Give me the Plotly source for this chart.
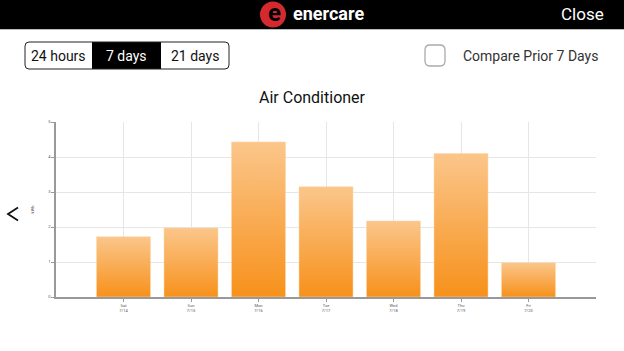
import plotly.graph_objects as go

# ---- data ----
days = ["Sat", "Sun", "Mon", "Tue", "Wed", "Thu", "Fri"]
dates = ["7/14", "7/15", "7/16", "7/17", "7/18", "7/19", "7/20"]
kwh = [1.72, 1.97, 4.43, 3.15, 2.17, 4.10, 0.98]
y_ticks = [0, 1, 2, 3, 4, 5]
title = "Air Conditioner"
segments = ["24 hours", "7 days", "21 days"]
compare_label = "Compare Prior 7 Days"

W, H = 624, 351
L, R, T, B = 56, 28, 122, 54
PW, PH = W - L - R, H - T - B
FONT = "Roboto, Liberation Sans, sans-serif"


def px(x):
    return (x - L) / PW


def py(y):
    return (H - B - y) / PH


def rrect(x0, y0, x1, y1, r):
    pts = [
        f"M {px(x0 + r)} {py(y0)}",
        f"L {px(x1 - r)} {py(y0)}",
        f"Q {px(x1)} {py(y0)} {px(x1)} {py(y0 + r)}",
        f"L {px(x1)} {py(y1 - r)}",
        f"Q {px(x1)} {py(y1)} {px(x1 - r)} {py(y1)}",
        f"L {px(x0 + r)} {py(y1)}",
        f"Q {px(x0)} {py(y1)} {px(x0)} {py(y1 - r)}",
        f"L {px(x0)} {py(y0 + r)}",
        f"Q {px(x0)} {py(y0)} {px(x0 + r)} {py(y0)}",
        "Z",
    ]
    return " ".join(pts)


def text(s, x, y, size, color, xanchor="center", family=FONT):
    return dict(text=s, x=px(x), y=py(y), xref="paper", yref="paper",
                xanchor=xanchor, yanchor="middle", showarrow=False,
                font=dict(size=size, color=color, family=family))


fig = go.Figure()

bar_w = 0.8
for i, v in enumerate(kwh):
    x0, x1 = i - bar_w / 2, i + bar_w / 2
    fig.add_trace(go.Scatter(
        x=[x0, x1, x1, x0, x0], y=[0, 0, v, v, 0],
        mode="lines", line=dict(width=0.6, color="rgba(253,215,170,0.9)"),
        fill="toself",
        fillgradient=dict(type="vertical",
                          colorscale=[[0, "#f7911b"], [1, "#fbc68b"]]),
        hoverinfo="skip", showlegend=False,
    ))

fig.update_xaxes(
    range=[-1, 7], tickmode="array", tickvals=list(range(len(days))),
    ticktext=[f"{d}<br>{t}" for d, t in zip(days, dates)],
    tickfont=dict(size=4, color="#555"), showgrid=True, gridcolor="#e6e6e6",
    gridwidth=1, showline=True, linecolor="#999", linewidth=1.5,
    ticks="outside", ticklen=3, tickcolor="#999", zeroline=False,
)
fig.update_yaxes(
    range=[0, 5], tickvals=y_ticks, tickfont=dict(size=4, color="#555"),
    showgrid=True, gridcolor="#e6e6e6", gridwidth=1, showline=True,
    linecolor="#999", linewidth=1.5, ticks="outside", ticklen=3,
    tickcolor="#999", zeroline=False,
    title=dict(text="kWh", font=dict(size=4, color="#555"), standoff=14),
)

shapes = []
ann = []

# header bar
shapes.append(dict(type="rect", xref="paper", yref="paper", x0=px(0), x1=px(W),
                   y0=py(0), y1=py(29), fillcolor="black", line=dict(width=0)))
shapes.append(dict(type="line", xref="paper", yref="paper", x0=px(0), x1=px(W),
                   y0=py(29.5), y1=py(29.5), line=dict(color="#bbb", width=1)))
# logo
shapes.append(dict(type="circle", xref="paper", yref="paper", x0=px(260), x1=px(286),
                   y0=py(1.5), y1=py(27.5), fillcolor="#d42a2f", line=dict(width=0)))
ann.append(text("<b>e</b>", 274, 13, 24, "black"))
ann.append(text("<b>enercare</b>", 291, 14, 18, "white", xanchor="left"))
ann.append(text("Close", 606, 14, 17, "white", xanchor="right"))

# segmented control
seg_x = [25, 92, 161, 229]
shapes.append(dict(type="rect", xref="paper", yref="paper", x0=px(seg_x[1]), x1=px(seg_x[2]),
                   y0=py(42), y1=py(69), fillcolor="black", line=dict(width=0)))
shapes.append(dict(type="path", xref="paper", yref="paper", path=rrect(25, 42, 229, 69, 4),
                   line=dict(color="#222", width=1)))
for i, s in enumerate(segments):
    ann.append(text(s, (seg_x[i] + seg_x[i + 1]) / 2, 55.5, 14,
                    "white" if i == 1 else "#111"))

# checkbox
shapes.append(dict(type="path", xref="paper", yref="paper", path=rrect(425, 45, 445, 66, 5),
                   line=dict(color="#aaa", width=1.3)))
ann.append(text(compare_label, 461, 56, 14, "#333", xanchor="left"))

# title
ann.append(text(title, 312, 97, 16, "#111"))
# back chevron
shapes.append(dict(type="path", xref="paper", yref="paper",
                   path=f"M {px(18)} {py(207.5)} L {px(8)} {py(214)} L {px(18)} {py(220.5)}",
                   line=dict(color="#111", width=1.8)))

fig.update_layout(
    width=W, height=H, margin=dict(l=L, r=R, t=T, b=B),
    paper_bgcolor="white", plot_bgcolor="white",
    shapes=shapes, annotations=ann, showlegend=False,
    font=dict(family=FONT),
)

fig.write_html("out.html")
